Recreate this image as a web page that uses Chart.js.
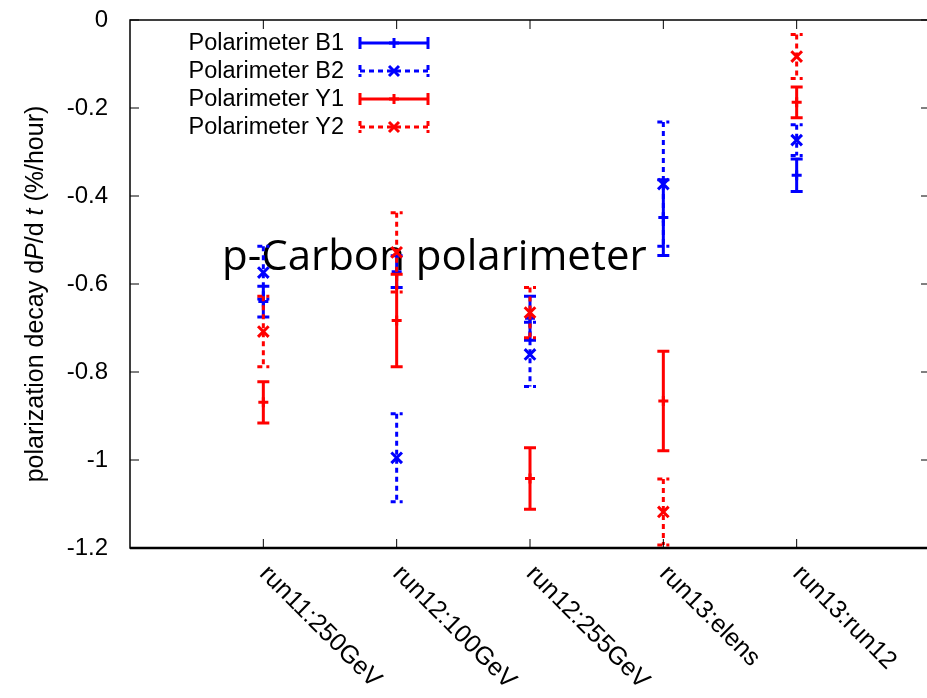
<!DOCTYPE html>
<html>
<head>
<meta charset="utf-8">
<script src="https://cdn.jsdelivr.net/npm/chart.js@4/dist/chart.umd.min.js"></script>
<style>
  html, body { margin: 0; padding: 0; background: #fff; overflow: hidden; }
  canvas { display: block; }
</style>
</head>
<body>
<canvas id="decayChart" width="930" height="698"></canvas>
<script>
// fills per run period
const runs = ["run11:250GeV", "run12:100GeV", "run12:255GeV", "run13:elens", "run13:run12"];

// dP/dt (%/hour) and its error, one pair of arrays per polarimeter
const b1Rate = [-0.640, -0.572, -0.678, -0.449, -0.353];
const b1Err  = [0.035, 0.036, 0.050, 0.086, 0.037];
const b2Rate = [-0.574, -0.995, -0.760, -0.373, -0.273];
const b2Err  = [0.060, 0.100, 0.073, 0.141, 0.035];
const y1Rate = [-0.869, -0.683, -1.042, -0.866, -0.187];
const y1Err  = [0.047, 0.105, 0.070, 0.113, 0.035];
const y2Rate = [-0.708, -0.528, -0.665, -1.118, -0.083];
const y2Err  = [0.080, 0.090, 0.057, 0.075, 0.050];

const yTicks = [0, -0.2, -0.4, -0.6, -0.8, -1, -1.2];

const FONT = "'Liberation Sans', Arial, Helvetica, sans-serif";
const BLUE = "#0000ff";
const RED = "#ff0000";
const DASH = [5, 4];

const toPoints = vals => vals.map((v, i) => ({ x: i + 1, y: v }));

const makeSet = (label, vals, errs, color, dashed, order) => ({
  label,
  data: toPoints(vals),
  errors: errs,
  dash: dashed ? DASH : [],
  borderColor: color,
  backgroundColor: color,
  pointStyle: dashed ? "crossRot" : "cross",
  pointRadius: dashed ? 7.5 : 5,
  pointBorderWidth: 3,
  showLine: false,
  order
});

// vertical error bars, drawn just before each dataset's markers so layering follows dataset order
const errorBars = {
  id: "errorBars",
  beforeDatasetDraw(chart, args) {
    const ds = chart.data.datasets[args.index];
    const { ctx, chartArea, scales: { x, y } } = chart;
    ctx.save();
    ctx.beginPath();
    ctx.rect(chartArea.left, chartArea.top, chartArea.right - chartArea.left, chartArea.bottom - chartArea.top);
    ctx.clip();
    ctx.strokeStyle = ds.borderColor;
    ctx.lineWidth = 3;
    ctx.setLineDash(ds.dash);
    ds.data.forEach((p, i) => {
      const px = x.getPixelForValue(p.x);
      const top = y.getPixelForValue(p.y + ds.errors[i]);
      const bot = y.getPixelForValue(p.y - ds.errors[i]);
      ctx.beginPath();
      ctx.moveTo(px, top);
      ctx.lineTo(px, bot);
      ctx.moveTo(px - 6, top);
      ctx.lineTo(px + 6, top);
      ctx.moveTo(px - 6, bot);
      ctx.lineTo(px + 6, bot);
      ctx.stroke();
    });
    ctx.restore();
  }
};

// gnuplot-like frame with inward ticks, rotated run labels, axis title, key and the caption
const decorations = {
  id: "decorations",
  beforeDatasetsDraw(chart) {
    const { ctx } = chart;
    ctx.save();
    ctx.fillStyle = "#000";
    ctx.font = "42px 'Open Sans', 'Noto Sans', sans-serif";
    ctx.textAlign = "left";
    ctx.textBaseline = "alphabetic";
    ctx.fillText("p-Carbon polarimeter", 222, 270);
    ctx.restore();
  },
  afterDraw(chart) {
    const { ctx, chartArea: a, scales: { x, y } } = chart;
    ctx.save();

    // frame
    ctx.strokeStyle = "#000";
    ctx.lineWidth = 1.5;
    ctx.strokeRect(a.left, a.top, a.right - a.left, a.bottom - a.top);
    ctx.lineWidth = 2.5;
    ctx.beginPath();
    ctx.moveTo(a.left, a.bottom); ctx.lineTo(a.right, a.bottom);
    ctx.stroke();

    // inward ticks
    ctx.lineWidth = 1;
    ctx.beginPath();
    y.ticks.forEach(t => {
      const py = y.getPixelForValue(t.value);
      ctx.moveTo(a.left, py); ctx.lineTo(a.left + 9, py);
      ctx.moveTo(a.right, py); ctx.lineTo(a.right - 9, py);
    });
    runs.forEach((_, i) => {
      const px = x.getPixelForValue(i + 1);
      ctx.moveTo(px, a.bottom); ctx.lineTo(px, a.bottom - 9);
      ctx.moveTo(px, a.top); ctx.lineTo(px, a.top + 9);
    });
    ctx.stroke();

    // run labels, slanted down to the right
    ctx.fillStyle = "#000";
    ctx.font = "25px " + FONT;
    ctx.textAlign = "left";
    ctx.textBaseline = "middle";
    runs.forEach((name, i) => {
      const px = x.getPixelForValue(i + 1);
      ctx.save();
      ctx.translate(px, a.bottom + 22);
      ctx.rotate(Math.PI / 4);
      ctx.fillText(name, 0, 0);
      ctx.restore();
    });

    // y title with italic P and t
    const parts = [
      ["polarization decay d", false],
      ["P", true],
      ["/d ", false],
      ["t", true],
      [" (%/hour)", false]
    ];
    const fontFor = it => (it ? "italic " : "") + "25px " + FONT;
    let total = 0;
    parts.forEach(([s, it]) => { ctx.font = fontFor(it); total += ctx.measureText(s).width; });
    ctx.save();
    ctx.translate(36, 294);
    ctx.rotate(-Math.PI / 2);
    ctx.textBaseline = "middle";
    let cx = -total / 2;
    parts.forEach(([s, it]) => {
      ctx.font = fontFor(it);
      ctx.fillText(s, cx, 0);
      cx += ctx.measureText(s).width;
    });
    ctx.restore();

    // key
    const x0 = 360, x1 = 428, xm = 394;
    chart.data.datasets.forEach((ds, i) => {
      const ry = 43 + i * 28;
      ctx.fillStyle = "#000";
      ctx.font = "23.5px " + FONT;
      ctx.textAlign = "right";
      ctx.textBaseline = "middle";
      ctx.fillText(ds.label, 344, ry + 1);

      ctx.strokeStyle = ds.borderColor;
      ctx.lineWidth = 3;
      ctx.setLineDash(ds.dash);
      ctx.beginPath();
      ctx.moveTo(x0, ry); ctx.lineTo(x1, ry);
      ctx.moveTo(x0, ry - 6); ctx.lineTo(x0, ry + 6);
      ctx.moveTo(x1, ry - 6); ctx.lineTo(x1, ry + 6);
      ctx.stroke();
      ctx.setLineDash([]);
      ctx.beginPath();
      if (ds.pointStyle === "cross") {
        ctx.moveTo(xm, ry - 5); ctx.lineTo(xm, ry + 5);
        ctx.moveTo(xm - 5, ry); ctx.lineTo(xm + 5, ry);
      } else {
        ctx.moveTo(xm - 5, ry - 5); ctx.lineTo(xm + 5, ry + 5);
        ctx.moveTo(xm - 5, ry + 5); ctx.lineTo(xm + 5, ry - 5);
      }
      ctx.stroke();
    });

    ctx.restore();
  }
};

new Chart(document.getElementById("decayChart"), {
  type: "scatter",
  data: {
    datasets: [
      makeSet("Polarimeter B1", b1Rate, b1Err, BLUE, false, 4),
      makeSet("Polarimeter B2", b2Rate, b2Err, BLUE, true, 3),
      makeSet("Polarimeter Y1", y1Rate, y1Err, RED, false, 2),
      makeSet("Polarimeter Y2", y2Rate, y2Err, RED, true, 1)
    ]
  },
  options: {
    responsive: false,
    devicePixelRatio: 1,
    animation: false,
    layout: { autoPadding: false, padding: { top: 20, left: 0, right: 0, bottom: 0 } },
    plugins: { legend: { display: false }, tooltip: { enabled: false } },
    scales: {
      x: {
        type: "linear",
        min: 0,
        max: runs.length + 1,
        grid: { display: false },
        border: { display: false },
        ticks: { display: false, stepSize: 1 },
        afterFit: s => {
          s.height = 150;
          s.paddingLeft = 0; s.paddingRight = 0;
        }
      },
      y: {
        type: "linear",
        min: yTicks[yTicks.length - 1],
        max: yTicks[0],
        grid: { display: false, drawTicks: false },
        border: { display: false },
        afterBuildTicks: s => { s.ticks = yTicks.map(v => ({ value: v })); },
        ticks: {
          color: "#000",
          padding: 22,
          font: { family: FONT, size: 24 },
          callback: v => String(Math.round(v * 10) / 10)
        },
        afterFit: s => {
          s.width = 130;
          s.paddingTop = 0; s.paddingBottom = 0;
        }
      }
    }
  },
  plugins: [errorBars, decorations]
});
</script>
</body>
</html>
